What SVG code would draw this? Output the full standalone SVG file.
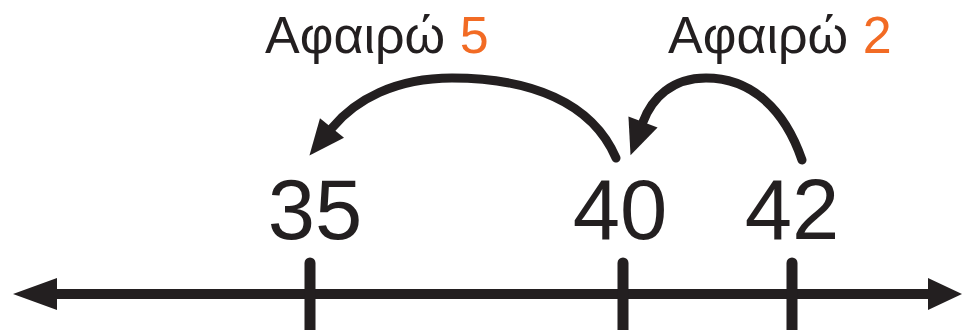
<svg xmlns="http://www.w3.org/2000/svg" width="962" height="330" viewBox="0 0 962 330">
  <style>
    .lbl { font-family: "Liberation Sans", Arial, sans-serif; font-size: 52px; fill: #231f20; }
    .num { font-family: "Liberation Sans", Arial, sans-serif; font-size: 85px; fill: #231f20; text-anchor: middle; }
    .hl { fill: #f26b24; }
    .curve { fill: none; stroke: #231f20; stroke-width: 9; stroke-linecap: round; }
    .tick { stroke: #231f20; stroke-width: 11; stroke-linecap: round; }
    .axis { stroke: #231f20; stroke-width: 10; }
    .head { fill: #231f20; }
  </style>
  <defs>
    <marker id="jump" markerUnits="userSpaceOnUse" markerWidth="40" markerHeight="40" refX="0" refY="0" viewBox="-2 -16 36 32" orient="auto">
      <path d="M0,-14 L32,0 L0,14 Z" fill="#231f20"/>
    </marker>
  </defs>

  <g id="axis">
    <line class="axis" x1="50" y1="294" x2="935" y2="294"/>
    <polygon class="head" points="13,294 57,278 57,310"/>
    <polygon class="head" points="962,294 928,278 928,310"/>
  </g>

  <g id="node-35">
    <line class="tick" x1="310" y1="263" x2="310" y2="340"/>
    <text class="num" x="315" y="239">35</text>
  </g>
  <g id="node-40">
    <line class="tick" x1="623" y1="263" x2="623" y2="340"/>
    <text class="num" x="620" y="239">40</text>
  </g>
  <g id="node-42">
    <line class="tick" x1="792" y1="263" x2="792" y2="340"/>
    <text class="num" x="792" y="239">42</text>
  </g>

  <g id="connectors">
    <path class="curve" d="M616,158 C592,102 530,78 452,78 C395,78 355,100 332,128" marker-end="url(#jump)"/>
    <path class="curve" d="M802,160 C785,110 752,78 706,78 C672,78 652,98 643,122" marker-end="url(#jump)"/>
  </g>

  <g id="label-5">
    <text class="lbl" x="265" y="53">Αφαιρώ <tspan class="hl">5</tspan></text>
  </g>
  <g id="label-2">
    <text class="lbl" x="668" y="53">Αφαιρώ <tspan class="hl">2</tspan></text>
  </g>
</svg>
